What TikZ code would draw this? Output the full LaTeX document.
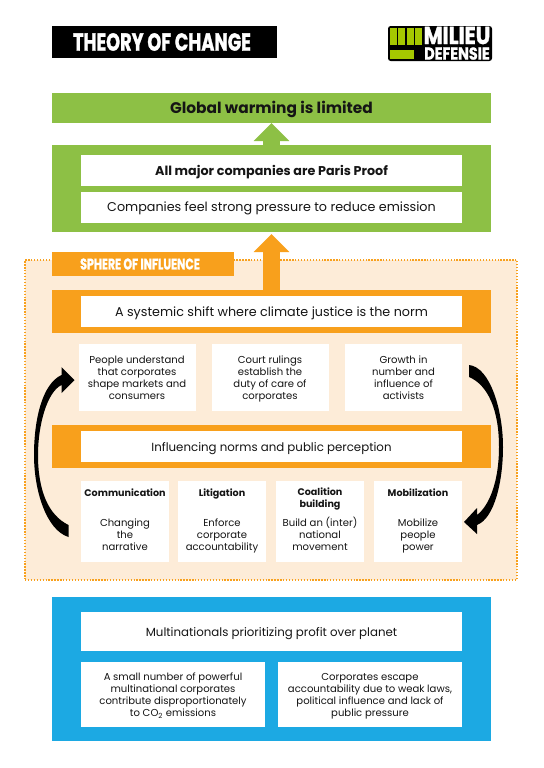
\documentclass[tikz,border=0pt]{standalone}
\usepackage{fontspec}
\setmainfont{Poppins}
\newfontfamily\headfont[FakeStretch=0.72,BoldFeatures={FakeBold=1.2}]{Poppins}
\usetikzlibrary{arrows.meta,calc}
\def\px{0.75pt}
\definecolor{leaf}{HTML}{8DC045}
\definecolor{logoleaf}{HTML}{A5C800}
\definecolor{amber}{HTML}{F8A01C}
\definecolor{peach}{HTML}{FDECD8}
\definecolor{sky}{HTML}{1CA9E3}
\definecolor{ink}{HTML}{151515}
\newcommand\topstrut{\rule{0pt}{\dimexpr.7\baselineskip+3pt}}
\newcommand\tactic[3]{\topstrut{\fontsize{7.2}{9}\selectfont\bfseries #1}\\[#2]#3\rule[-7pt]{0pt}{7pt}}

\begin{document}
\begin{tikzpicture}[x=\px,y=-\px,text=ink,
   size/.style 2 args={minimum width=#1*\px,minimum height=#2*\px,inner sep=0pt,outer sep=0pt},
   band/.style={fill=#1,size={439}{43}},
   card/.style={fill=white,align=center,font=\fontsize{7.55}{9}\selectfont,execute at begin node=\topstrut,execute at end node=\strut},
   wide/.style={card,size={381}{31},font=\fontsize{9.55}{11}\selectfont},
   rise/.style={draw=#1,line width=12.75pt,-{Triangle[length=13.5pt,width=26pt]}},
   cycle/.style={fill=black}]
  \useasboundingbox (0,0) rectangle (543,768);
  \node[fill=black,size={225}{32},text=white,font=\headfont\fontsize{18.5}{20}\selectfont\bfseries] (title) at (164.5,42) {\hspace*{-3.75pt}THEORY OF CHANGE};
  \node[fill=black,rounded corners=2pt,size={104}{35}] (logo) at (440,43.5) {};
  \foreach \x in {389.5,398,406.5,415}
    \fill[logoleaf] (\x,28) rectangle ++(7.2,17);
  \fill[logoleaf] (389.5,49.5) rectangle (413.5,59);
  \node[text=white,inner sep=0pt,font=\headfont\fontsize{18.5}{20}\selectfont\bfseries] (milieu) at (457,35.5) {\scalebox{1.16}[1]{MILIEU}};
  \node[text=white,inner sep=0pt,font=\headfont\fontsize{13}{14}\selectfont\bfseries] (defensie) at (457,53.5) {\scalebox{1.15}[1]{DEFENSIE}};

  \node[fill=leaf,size={439}{30},font=\fontsize{11.55}{13}\selectfont\bfseries,execute at begin node=\topstrut,execute at end node=\strut] (limited) at (271.5,108) {Global warming is limited};
  \node[fill=leaf,size={439}{87}] (parisband) at (271.5,188.5) {};
  \node[wide,font=\fontsize{9.55}{11}\selectfont\bfseries] (paris) at (271.5,170.5) {All major companies are Paris Proof};
  \node[wide] (pressure) at (271.5,207) {Companies feel strong pressure to reduce emission};

  \node[fill=peach,draw=amber,dash pattern=on 1pt off 1.2pt,line width=1pt,size={492}{320}] (sphere) at (271,420) {};
  \node[band=amber] (shiftband) at (271.5,311.5) {};
  \node[wide] (shift) at (271.5,311.5) {A systemic shift where climate justice is the norm};
  \node[fill=amber,size={182}{24},text=white,font=\headfont\fontsize{11.5}{13}\selectfont\bfseries] (tab) at (143,264) {\hspace*{-4.5pt}SPHERE OF INFLUENCE};
  \draw[rise=leaf] (parisband.north) -- (limited.south);
  \draw[rise=amber,shorten >=2*\px] (shiftband.north) -- (parisband.south);

  \node[card,size={117}{67}] (people) at (137,377.5) {\topstrut People understand\\that corporates\\shape markets and\\consumers};
  \node[card,size={117}{67}] (court) at (270,377.5) {\topstrut Court rulings\\establish the\\duty of care of\\corporates};
  \node[card,size={117}{67}] (growth) at (403.5,377.5) {\topstrut Growth in\\number and\\influence of\\activists};

  \node[band=amber] (normband) at (271.5,446.5) {};
  \node[wide,font=\fontsize{8.85}{11}\selectfont] (norms) at (271.5,446.5) {Influencing norms and public perception};

  \node[card,size={88}{81}] (comm) at (125,521.5) {\tactic{Communication}{13.5pt}{Changing\\the\\narrative}};
  \node[card,size={88}{81}] (litigation) at (222,521.5) {\tactic{Litigation}{13.5pt}{Enforce\\corporate\\accountability}};
  \node[card,size={88}{81}] (coalition) at (320,521.5) {\topstrut{\fontsize{7.2}{9}\selectfont\bfseries Coalition}\\{\fontsize{7.2}{9}\selectfont\bfseries building}\\[4.5pt]Build an (inter)\\national\\movement\rule[-7pt]{0pt}{7pt}};
  \node[card,size={88}{81}] (mobil) at (418,521.5) {\tactic{Mobilization}{13.5pt}{Mobilize\\people\\power}};

  \coordinate (lefttail) at ($(comm.west)+(-12.5,9.5)$);
  \coordinate (lefttip) at ($(people.west)+(-4,2.5)$);
  \coordinate (righttail) at ($(growth.east)+(7,-6.5)$);
  \coordinate (righttip) at ($(mobil.east)+(2,0.5)$);
  \fill[cycle] ($(lefttail)+(0,6)$) .. controls (46,530) and (34,490) .. (34,455) .. controls (34,420) and (42,384) .. ($(lefttip)+(-13,-5)$) -- ++(0,-8) -- (lefttip) -- ($(lefttip)+(-13,13)$) -- ++(0,-8) .. controls (47,392) and (38,425) .. (38,455) .. controls (38,490) and (48,515) .. ($(lefttail)+(0,-6)$) -- cycle;
  \fill[cycle] ($(righttail)+(0,-6)$) .. controls (490,367) and (503,410) .. (503,447) .. controls (503,480) and (495,518) .. ($(righttip)+(13,3)$) -- ++(0,9) -- (righttip) -- ($(righttip)+(13,-14)$) -- ++(0,7) .. controls (490,505) and (499,480) .. (499,447) .. controls (499,410) and (488,385) .. ($(righttail)+(0,6)$) -- cycle;

  \node[fill=sky,size={439}{144}] (blueband) at (271.5,669) {};
  \node[wide,size={381}{39},font=\fontsize{8.85}{11}\selectfont] (profit) at (271.5,631.5) {Multinationals prioritizing profit over planet};
  \node[card,size={184}{65}] (small) at (173,694.5) {\topstrut A small number of powerful\\multinational corporates\\contribute disproportionately\\to CO\textsubscript{2} emissions};
  \node[card,size={184}{65}] (escape) at (370,694.5) {\topstrut Corporates escape\\accountability due to weak laws,\\political influence and lack of\\public pressure};
 \end{tikzpicture}
\end{document}
